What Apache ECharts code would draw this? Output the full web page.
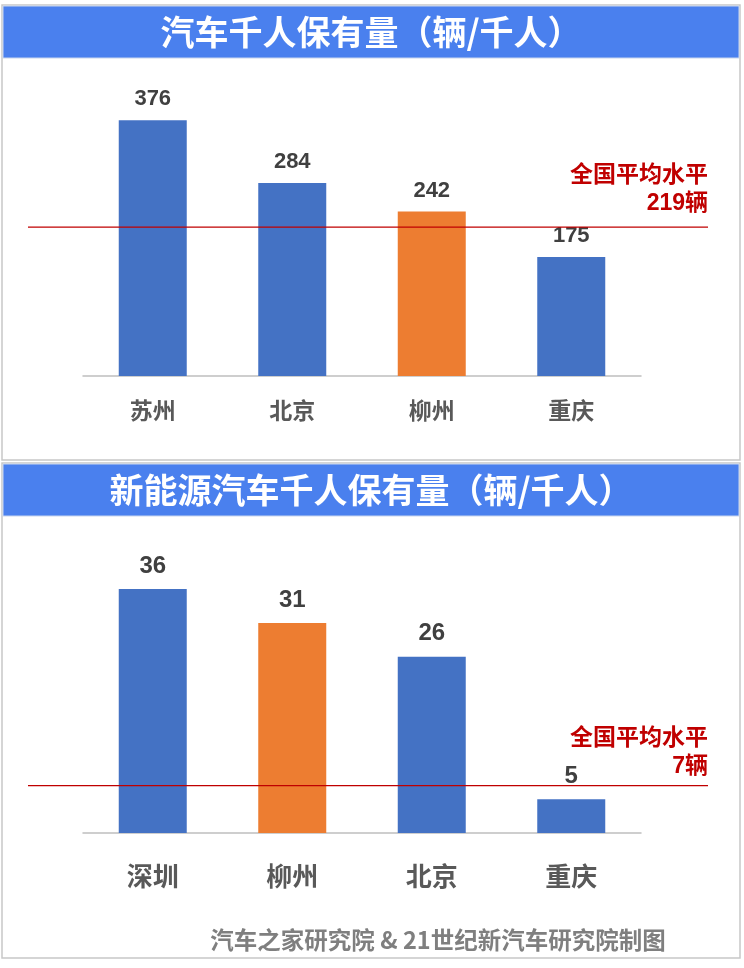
<!DOCTYPE html>
<html><head><meta charset="utf-8">
<script src="https://cdn.jsdelivr.net/npm/echarts@6/dist/echarts.min.js"></script>
<style>html,body{margin:0;padding:0;background:#fff}#c{width:744px;height:968px}</style>
</head><body><div id="c"></div>
<script>
const title1 = '汽车千人保有量（辆/千人）';
const title2 = '新能源汽车千人保有量（辆/千人）';
const cats1 = ['苏州', '北京', '柳州', '重庆'];
const vals1 = [376, 284, 242, 175];
const highlight1 = '柳州';
const avg1 = 219;
const cats2 = ['深圳', '柳州', '北京', '重庆'];
const vals2 = [36, 31, 26, 5];
const highlight2 = '柳州';
const avg2 = 7;
const avgLabel = '全国平均水平';
const unit = '辆';
const footer = '汽车之家研究院 & 21世纪新汽车研究院制图';

const BLUE = '#4472C4', ORANGE = '#ED7D31', RED = '#C00000';
const FONT = '"Liberation Sans", "Noto Sans CJK SC", sans-serif';
const CJK = '"Noto Sans CJK SC", sans-serif';

function barData(cats, vals, hl) {
  return vals.map((v, i) => ({ value: v, itemStyle: { color: cats[i] === hl ? ORANGE : BLUE } }));
}
function avgData(v, dist) {
  return [[0, v], { value: [1, v], label: {
    show: true, position: 'top', align: 'right', distance: dist,
    formatter: p => avgLabel + '\n' + p.value[1] + unit,
    color: RED, fontWeight: 'bold', fontSize: 23, lineHeight: 28, fontFamily: FONT
  } }];
}

const chart = echarts.init(document.getElementById('c'), null, { renderer: 'canvas' });
const catAxis = (idx, cats, size, margin) => ({
  type: 'category', gridIndex: idx, data: cats,
  axisLine: { lineStyle: { color: '#BFBFBF', width: 1.5 } }, axisTick: { show: false },
  axisLabel: { color: '#595959', fontWeight: 'bold', fontSize: size, margin: margin, fontFamily: CJK }
});
const lineX = idx => ({ type: 'value', gridIndex: idx, min: 0, max: 1, show: false });
const valY = (idx, max) => ({ type: 'value', gridIndex: idx, min: 0, max: max, show: false, splitLine: { show: false } });
const avgSeries = (idx, v, dist) => ({
  type: 'line', xAxisIndex: idx, yAxisIndex: idx, symbol: 'circle', symbolSize: 0.1, showSymbol: true,
  itemStyle: { color: RED }, lineStyle: { color: RED, width: 1.2 }, data: avgData(v, dist), z: 5
});

chart.setOption({
  animation: false,
  graphic: [
    { type: 'rect', shape: { x: 2, y: 5, width: 738, height: 455 }, style: { fill: '#fff', stroke: '#C8C8C8', lineWidth: 1.5 }, z: -10 },
    { type: 'rect', shape: { x: 2, y: 463, width: 738, height: 495 }, style: { fill: '#fff', stroke: '#C8C8C8', lineWidth: 1.5 }, z: -10 },
    { type: 'rect', shape: { x: 3, y: 6, width: 736, height: 52 }, style: { fill: '#4A80EE', stroke: '#C9D6EE', lineWidth: 1 }, z: -5 },
    { type: 'rect', shape: { x: 3, y: 464, width: 736, height: 52 }, style: { fill: '#4A80EE', stroke: '#C9D6EE', lineWidth: 1 }, z: -5 },
    { type: 'text', x: 371, y: 32, style: { text: title1, fill: '#fff', font: 'bold 34px ' + CJK, textAlign: 'center', textVerticalAlign: 'middle' } },
    { type: 'text', x: 371, y: 490, style: { text: title2, fill: '#fff', font: 'bold 34px ' + CJK, textAlign: 'center', textVerticalAlign: 'middle' } },
    { type: 'text', x: 438, y: 940, style: { text: footer, fill: '#7F7F7F', font: 'bold 23.5px ' + CJK, textAlign: 'center', textVerticalAlign: 'middle' } }
  ],
  grid: [
    { left: 83, width: 558, top: 104, height: 272 },
    { left: 28, width: 680, top: 104, height: 272 },
    { left: 83, width: 558, top: 562, height: 271 },
    { left: 28, width: 680, top: 562, height: 271 }
  ],
  xAxis: [catAxis(0, cats1, 23, 23), lineX(1), catAxis(2, cats2, 26, 30), lineX(3)],
  yAxis: [valY(0, 400), valY(1, 400), valY(2, 40), valY(3, 40)],
  series: [
    { type: 'bar', xAxisIndex: 0, yAxisIndex: 0, barWidth: 68, data: barData(cats1, vals1, highlight1),
      label: { show: true, position: 'top', distance: 10, color: '#404040', fontWeight: 'bold', fontSize: 22, fontFamily: FONT } },
    avgSeries(1, avg1, 9),
    { type: 'bar', xAxisIndex: 2, yAxisIndex: 2, barWidth: 68, data: barData(cats2, vals2, highlight2),
      label: { show: true, position: 'top', distance: 11, color: '#404040', fontWeight: 'bold', fontSize: 24, fontFamily: FONT } },
    avgSeries(3, avg2, 5)
  ]
});
</script></body></html>
